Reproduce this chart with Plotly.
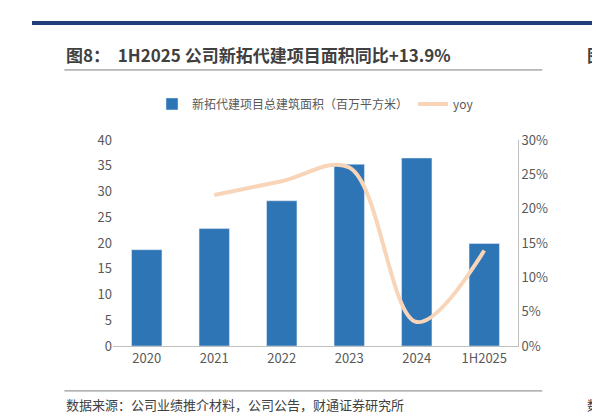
import plotly.graph_objects as go

years = ["2020", "2021", "2022", "2023", "2024", "1H2025"]
area = [18.7, 22.8, 28.2, 35.3, 36.5, 19.9]
yoy_years = ["2021", "2022", "2023", "2024", "1H2025"]
yoy = [0.22, 0.24, 0.26, 0.035, 0.139]

BAR_COLOR = "#2E75B6"
LINE_COLOR = "#F8D5B8"
FONT = "Noto Sans CJK SC"

fig = go.Figure()
fig.add_trace(go.Bar(
    x=years, y=area, name="新拓代建项目总建筑面积（百万平方米）",
    marker_color=BAR_COLOR, width=0.45,
))
fig.add_trace(go.Scatter(
    x=yoy_years, y=yoy, name="yoy", yaxis="y2", mode="lines",
    line=dict(color=LINE_COLOR, width=4, shape="spline", smoothing=1.0),
))

fig.update_layout(
    width=600, height=419,
    margin=dict(l=105, r=90, t=132, b=81, autoexpand=False),
    plot_bgcolor="#FFFFFF", paper_bgcolor="#FFFFFF",
    font=dict(family=FONT, size=13, color="#595959"),
    showlegend=True,
    legend=dict(orientation="h", x=0.5, xanchor="center", y=1.175, yanchor="middle",
                font=dict(size=12, color="#595959")),
    xaxis=dict(showline=True, linecolor="#BFBFBF", ticks="", tickfont=dict(size=13)),
    yaxis=dict(range=[0, 40], dtick=5, showgrid=False, showline=False,
               tickfont=dict(size=13), zeroline=False),
    yaxis2=dict(range=[0, 0.3], dtick=0.05, tickformat=".0%", overlaying="y",
                side="right", showgrid=False, showline=True, linecolor="#BFBFBF",
                tickfont=dict(size=13)),
    shapes=[
        dict(type="line", xref="paper", yref="paper", x0=-0.2, x1=1.25, y0=1.568, y1=1.568,
             line=dict(color="#1F3E7A", width=4)),
        dict(type="line", xref="paper", yref="paper", x0=-0.12, x1=1.06, y0=1.34, y1=1.34,
             line=dict(color="#7F7F7F", width=1)),
        dict(type="line", xref="paper", yref="paper", x0=-0.12, x1=1.06, y0=-0.218, y1=-0.218,
             line=dict(color="#7F7F7F", width=1)),
    ],
    annotations=[
        dict(text="<b>图8：  1H2025 公司新拓代建项目面积同比+13.9%</b>", xref="paper", yref="paper",
             x=-0.12, y=1.413, xanchor="left", yanchor="middle", showarrow=False,
             font=dict(size=17, color="#404040")),
        dict(text="<b>图</b>", xref="paper", yref="paper", x=1.165, y=1.413, xanchor="left",
             yanchor="middle", showarrow=False, font=dict(size=17, color="#404040")),
        dict(text="数据来源：公司业绩推介材料，公司公告，财通证券研究所", xref="paper", yref="paper",
             x=-0.12, y=-0.286, xanchor="left", yanchor="middle", showarrow=False,
             font=dict(size=13, color="#404040")),
        dict(text="数据", xref="paper", yref="paper", x=1.165, y=-0.286, xanchor="left",
             yanchor="middle", showarrow=False, font=dict(size=13, color="#404040")),
    ],
)

fig.write_html("out.html")
